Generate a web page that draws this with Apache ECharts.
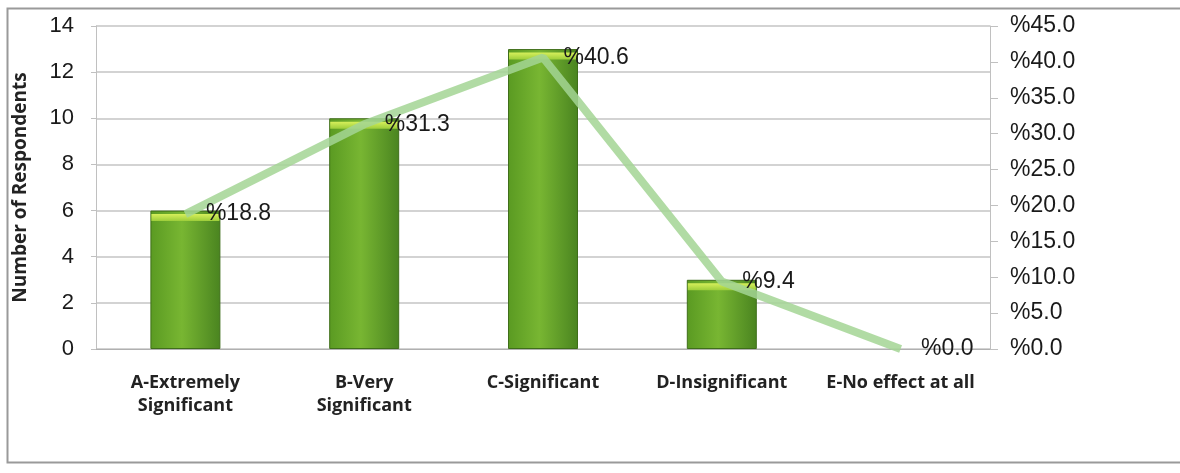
<!DOCTYPE html>
<html><head><meta charset="utf-8">
<script src="https://cdn.jsdelivr.net/npm/echarts@6/dist/echarts.min.js"></script>
<style>html,body{margin:0;padding:0;background:#fff;}#c{width:1180px;height:473px;}</style>
</head><body><div id="c"></div>
<script>
const categories = ['A-Extremely\nSignificant', 'B-Very\nSignificant', 'C-Significant', 'D-Insignificant', 'E-No effect at all'];
const respondents = [6, 10, 13, 3, 0];
const percentages = [18.8, 31.3, 40.6, 9.4, 0.0];

const barData = respondents.map(v => v > 0 ? v : '-');

const chart = echarts.init(document.getElementById('c'));
chart.setOption({
  animation: false,
  backgroundColor: '#fff',
  graphic: [{
    type: 'rect', shape: {x: 7.5, y: 8.5, width: 1190, height: 454},
    style: {fill: 'none', stroke: '#9a9a9a', lineWidth: 2}, silent: true, z: -1
  }],
  grid: {left: 96, right: 190, top: 26, bottom: 124},
  xAxis: {
    type: 'category', data: categories,
    axisLine: {lineStyle: {color: '#b0b0b0'}},
    axisTick: {show: false},
    axisLabel: {interval: 0, color: '#222', fontFamily: 'Open Sans', fontWeight: 'bold', fontSize: 18, lineHeight: 23, margin: 22}
  },
  yAxis: [{
    type: 'value', min: 0, max: 14, interval: 2,
    name: 'Number of Respondents', nameLocation: 'middle', nameGap: 66,
    nameTextStyle: {color: '#222', fontFamily: 'Open Sans', fontWeight: 'bold', fontSize: 19},
    axisLine: {show: true, lineStyle: {color: '#c0c0c0'}},
    axisTick: {show: true, length: 5, lineStyle: {color: '#c0c0c0'}},
    axisLabel: {color: '#1a1a1a', fontFamily: 'Liberation Sans', fontSize: 22, margin: 22},
    splitLine: {lineStyle: {color: '#c4c4c4', width: 1.5}}
  }, {
    type: 'value', min: 0, max: 45, interval: 5, position: 'right',
    axisLine: {show: true, lineStyle: {color: '#c0c0c0'}},
    axisTick: {show: true, length: 8, lineStyle: {color: '#c0c0c0'}},
    axisLabel: {color: '#1a1a1a', fontFamily: 'Liberation Sans', fontSize: 23, margin: 20,
      formatter: v => '%' + v.toFixed(1)},
    splitLine: {show: false}
  }],
  series: [{
    type: 'bar', data: barData, yAxisIndex: 0, barWidth: 70,
    itemStyle: {
      color: {type: 'linear', x: 0, y: 0, x2: 1, y2: 0, colorStops: [
        {offset: 0, color: '#5a9a22'}, {offset: 0.45, color: '#78b632'}, {offset: 1, color: '#4a8420'}]},
      borderColor: '#3f6e1a', borderWidth: 1
    }
  }, {
    type: 'pictorialBar', data: barData, yAxisIndex: 0,
    symbol: 'rect', symbolSize: [68, 7], symbolPosition: 'end', symbolOffset: [0, '50%'],
    barGap: '-100%', silent: true, z: 3,
    itemStyle: {color: {type: 'linear', x: 0, y: 0, x2: 0, y2: 1, colorStops: [
      {offset: 0, color: '#d6ef5a'}, {offset: 1, color: '#9ccd3a'}]}}
  }, {
    type: 'line', data: percentages, yAxisIndex: 1,
    symbol: 'circle', symbolSize: 1, showSymbol: true,
    itemStyle: {color: 'rgba(0,0,0,0)'},
    lineStyle: {color: '#a3d594', width: 8, opacity: 0.85},
    label: {show: true, position: 'right', distance: 20, color: '#1a1a1a', fontFamily: 'Liberation Sans', fontSize: 23,
      formatter: p => '%' + p.value.toFixed(1)},
    z: 5
  }]
});
</script></body></html>
